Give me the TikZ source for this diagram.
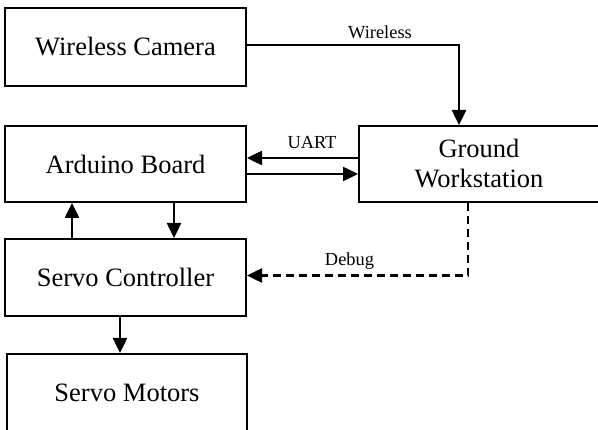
\documentclass[tikz,border=0pt]{standalone}
\usepackage{fontspec}
\setmainfont{Liberation Serif}
\usetikzlibrary{arrows.meta}

\begin{document}
\begin{tikzpicture}
            [x=1pt, y=-1pt,
             block/.style={draw, line width=2pt, rectangle, inner sep=0pt, align=center,
                           font=\fontsize{26.5}{30}\selectfont},
             arr/.style={line width=2.5pt, -{Triangle[length=15pt,width=14pt]}},
             lbl/.style={inner sep=0pt, font=\fontsize{18.4}{20}\selectfont}]
            % Fix the canvas
            \useasboundingbox (0,0) rectangle (598,430);

            % Place the blocks
            \node[block, minimum width=241pt, minimum height=78pt] (cam) at (125.5, 47) {Wireless Camera};
            \node[block, minimum width=241pt, minimum height=76pt] (ard) at (125.5, 164) {Arduino Board};
            \node[block, minimum width=240pt, minimum height=76pt] (gws) at (479, 164) {Ground\\Workstation};
            \node[block, minimum width=241pt, minimum height=77pt] (ctl) at (125.5, 277.5) {Servo Controller};
            \node[block, minimum width=240pt, minimum height=78pt] (mot) at (127, 393) {Servo Motors};

            % Draw the links
            \draw[arr] ([yshift=2pt]cam.east) -| ([xshift=-20pt]gws.north);
            \draw[arr] ([yshift=6pt]gws.west) -- ([yshift=6pt]ard.east);
            \draw[arr] ([yshift=-10pt]ard.west -| ard.east) -- ([yshift=-10pt]gws.west);
            \draw[arr] ([xshift=-53.5pt]ctl.north) -- ([xshift=-53.5pt]ard.south);
            \draw[arr] ([xshift=48.5pt]ard.south) -- ([xshift=48.5pt]ctl.north);
            \draw[arr] ([xshift=-5.5pt]ctl.south) -- ([xshift=-7pt]mot.north);
            \draw[arr, dash pattern=on 8pt off 5pt] ([xshift=-11pt]gws.south) |- ([yshift=2pt]ctl.east);

            % Place the labels
            \node[lbl] (wlbl) at (380, 32) {Wireless};
            \node[lbl] (ulbl) at (312, 143) {UART};
            \node[lbl] (dlbl) at (349.5, 261) {Debug};
        \end{tikzpicture}
\end{document}
